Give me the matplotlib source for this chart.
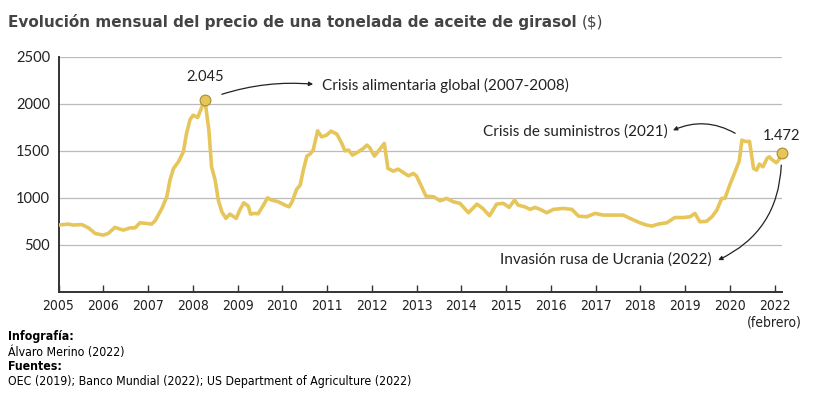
import numpy as np
import matplotlib
matplotlib.use("Agg")
import matplotlib.pyplot as plt

# posicion en el eje (0 = 2005, 1 = 2006, ... ultimo tick = "2022 (febrero)")
pos = [0.00, 0.22, 0.33, 0.52, 0.67, 0.82, 1.00, 1.11, 1.26, 1.45, 1.60, 1.71, 1.82, 1.97,
       2.08, 2.16, 2.31, 2.42, 2.49, 2.57, 2.68, 2.79, 2.86, 2.94, 3.01, 3.11, 3.27, 3.36,
       3.42, 3.50, 3.57, 3.65, 3.74, 3.83, 3.97, 4.05, 4.14, 4.24, 4.29, 4.39, 4.46, 4.58,
       4.67, 4.76, 4.91, 5.06, 5.15, 5.22, 5.32, 5.40, 5.47, 5.55, 5.62, 5.69, 5.79, 5.88,
       5.99, 6.09, 6.22, 6.33, 6.40, 6.48, 6.57, 6.70, 6.81, 6.89, 6.95, 7.06, 7.15, 7.28,
       7.36, 7.48, 7.59, 7.70, 7.82, 7.93, 8.00, 8.12, 8.21, 8.38, 8.53, 8.67, 8.82, 8.97,
       9.16, 9.35, 9.48, 9.63, 9.79, 9.94, 10.07, 10.19, 10.27, 10.42, 10.54, 10.65, 10.76,
       10.91, 11.06, 11.28, 11.47, 11.62, 11.80, 11.99, 12.17, 12.40, 12.62, 12.77, 12.99,
       13.14, 13.26, 13.40, 13.59, 13.77, 13.96, 14.11, 14.22, 14.33, 14.48, 14.60, 14.71,
       14.82, 14.89, 15.01, 15.12, 15.21, 15.27, 15.34, 15.44, 15.53, 15.60, 15.66, 15.74,
       15.83, 15.88, 15.94, 16.04, 16.09, 16.16]
precio = [710, 720, 710, 715, 680, 620, 603, 620, 685, 656, 680, 680, 734, 727,
          720, 756, 887, 1011, 1188, 1313, 1383, 1490, 1685, 1834, 1880, 1855, 2045, 1720,
          1330, 1188, 976, 851, 781, 827, 781, 869, 947, 912, 827, 834, 830, 922,
          1000, 976, 958, 922, 904, 958, 1090, 1135, 1295, 1444, 1465, 1508, 1713, 1649,
          1667, 1710, 1678, 1579, 1500, 1508, 1454, 1490, 1525, 1561, 1536, 1444, 1500, 1579,
          1313, 1284, 1305, 1270, 1234, 1260, 1231, 1111, 1018, 1011, 968, 994, 958, 941,
          841, 933, 887, 809, 933, 941, 898, 976, 922, 904, 877, 898, 877,
          841, 877, 887, 877, 805, 798, 834, 816, 816, 816, 781, 734,
          710, 699, 720, 734, 790, 790, 798, 834, 745, 750, 798, 869,
          994, 994, 1150, 1280, 1390, 1614, 1600, 1600, 1313, 1295, 1359, 1330,
          1419, 1436, 1408, 1373, 1400, 1472]

anios = ['2005', '2006', '2007', '2008', '2009', '2010', '2011', '2012', '2013',
         '2014', '2015', '2016', '2017', '2018', '2019', '2020', '2022\n(febrero)']
yticks = [500, 1000, 1500, 2000, 2500]

color = '#E6C65A'
gris = '#444444'
negro = '#222222'
fuente = ['Lato', 'DejaVu Sans']
estrecha = dict(family='DejaVu Sans', fontstretch='condensed')

fig = plt.figure(figsize=(8.16, 3.98), dpi=100)
ax = fig.add_axes([0.0717, 0.267, 0.8863, 0.590])

ax.plot(pos, precio, color=color, lw=2.6, solid_joinstyle='round', zorder=3)
ax.scatter([pos[26], pos[-1]], [precio[26], precio[-1]], s=60, color=color,
           edgecolor='#A98A30', linewidth=0.8, zorder=4, clip_on=False)

ax.set_xlim(0, 16.16)
ax.set_ylim(0, 2500)
ax.set_yticks(yticks)
ax.set_yticklabels([str(v) for v in yticks], family=fuente, fontsize=10.5, color=negro)
ax.set_xticks(range(len(anios)))
ax.set_xticklabels(anios, fontsize=10, color=negro, linespacing=1.25, **estrecha)
ax.tick_params(axis='x', direction='in', length=5, width=1, color='#333333', pad=5)
ax.tick_params(axis='y', length=0, pad=6)
ax.grid(axis='y', color='#BBBBBB', lw=0.9)
ax.set_axisbelow(True)
for s in ['top', 'right']:
    ax.spines[s].set_visible(False)
for s in ['left', 'bottom']:
    ax.spines[s].set_color('#333333')
    ax.spines[s].set_linewidth(1.4)

# anotaciones
ax.text(pos[26], 2284, '2.045', ha='center', va='center', family=fuente, fontsize=10.5, color=negro)
ax.text(pos[-1], 1657, '1.472', ha='center', va='center', family=fuente, fontsize=10.5, color=negro)
ax.annotate('', xy=(5.69, 2209), xytext=(3.65, 2102),
            arrowprops=dict(arrowstyle='-|>', color=negro, lw=0.9, mutation_scale=6,
                            shrinkA=0, shrinkB=0, connectionstyle='arc3,rad=-0.1'))
ax.text(5.89, 2200, 'Crisis alimentaria global (2007-2008)', ha='left', va='center',
        family=fuente, fontsize=11, color=negro)
ax.annotate('', xy=(13.73, 1719), xytext=(15.12, 1687),
            arrowprops=dict(arrowstyle='-|>', color=negro, lw=0.9, mutation_scale=6,
                            shrinkA=0, shrinkB=0, connectionstyle='arc3,rad=0.25'))
ax.text(13.62, 1709, 'Crisis de suministros (2021)', ha='right', va='center',
        family=fuente, fontsize=11, color=negro)
ax.annotate('', xy=(14.74, 337), xytext=(16.15, 1348),
            arrowprops=dict(arrowstyle='-|>', color=negro, lw=0.9, mutation_scale=6,
                            shrinkA=0, shrinkB=0, connectionstyle='arc3,rad=-0.3'))
ax.text(14.6, 347, 'Invasión rusa de Ucrania (2022)', ha='right', va='center',
        family=fuente, fontsize=11, color=negro)

# titulo
t = fig.text(0.010, 0.944, 'Evolución mensual del precio de una tonelada de aceite de girasol',
             family='DejaVu Sans', fontsize=11, fontweight='bold', color=gris, va='center')
fig.canvas.draw()
bb = t.get_window_extent()
fig.text(bb.x1 / fig.bbox.width + 0.006, 0.944, '($)', family='DejaVu Sans', fontsize=11,
         color=gris, va='center')

# pie
fig.text(0.010, 0.155, 'Infografía:', fontsize=8.8, fontweight='bold', va='center', **estrecha)
fig.text(0.010, 0.115, 'Álvaro Merino (2022)', fontsize=8.8, va='center', **estrecha)
fig.text(0.010, 0.078, 'Fuentes:', fontsize=8.8, fontweight='bold', va='center', **estrecha)
fig.text(0.010, 0.042, 'OEC (2019); Banco Mundial (2022); US Department of Agriculture (2022)',
         fontsize=8.8, va='center', **estrecha)

fig.savefig('out.png', dpi=100)
